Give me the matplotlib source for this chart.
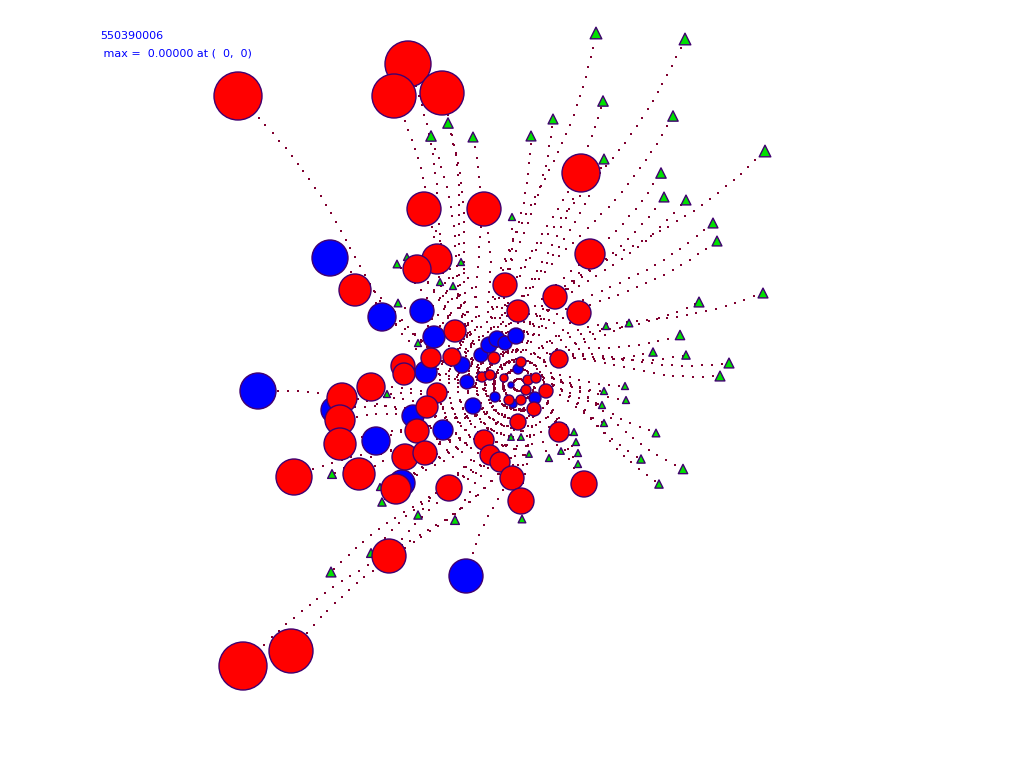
import numpy as np
import matplotlib.pyplot as plt
from matplotlib.patches import Circle

# ---- data (pixel coordinates of the network view) ----
title_id = "550390006"
max_text = " max =  0.00000 at (  0,  0)"
center = (519, 385)

red_x = [238, 408, 394, 442, 581, 424, 484, 590, 437, 417, 355, 505, 555, 518, 579,
         455, 403, 431, 452, 559, 371, 342, 340, 340, 437, 427, 417, 405, 425, 359,
         294, 396, 449, 484, 490, 500, 512, 521, 584, 559, 518, 546, 534, 389, 291,
         243, 494, 482, 490, 504, 521, 528, 536, 526, 509, 521, 404]
red_y = [96, 64, 96, 93, 173, 209, 209, 254, 259, 269, 290, 285, 297, 311, 313,
         331, 366, 358, 357, 359, 387, 398, 420, 444, 393, 407, 431, 457, 453, 474,
         477, 489, 488, 440, 455, 462, 478, 501, 484, 432, 422, 391, 409, 556, 651,
         666, 358, 377, 375, 378, 362, 380, 378, 390, 400, 400, 374]
red_r = [24, 23, 22, 22, 19, 17, 17, 15, 15, 14, 16, 12, 12, 11, 12,
         11, 12, 10, 9, 9, 14, 15, 15, 16, 10, 11, 12, 13, 12, 16,
         18, 15, 13, 10, 10, 10, 12, 13, 13, 10, 8, 7, 7, 17, 22,
         24, 6, 5, 5, 4, 5, 5, 5, 5, 5, 5, 11]

blue_x = [330, 258, 382, 422, 434, 376, 413, 443, 426, 334, 402, 466, 462, 467,
          481, 489, 497, 505, 516, 473, 495, 518, 535, 513, 511]
blue_y = [258, 391, 317, 311, 337, 441, 416, 430, 372, 410, 483, 576, 365, 382,
          355, 345, 339, 343, 336, 406, 397, 369, 398, 404, 385]
blue_r = [18, 18, 14, 12, 11, 14, 11, 10, 11, 13, 13, 17, 8, 7,
          7, 8, 8, 7, 8, 8, 5, 5, 6, 4, 3]

tri_x = [596, 685, 603, 673, 765, 553, 531, 473, 448, 431, 604, 661, 664, 686, 713,
         717, 763, 699, 680, 729, 720, 686, 653, 629, 683, 641, 656, 659, 625, 626,
         604, 602, 604, 574, 576, 578, 578, 549, 529, 561, 455, 418, 382, 331, 371,
         332, 397, 398, 418, 461, 521, 511, 380, 606, 512, 440, 453, 387, 522, 407]
tri_y = [33, 39, 101, 116, 151, 119, 136, 137, 123, 136, 159, 173, 197, 200, 223,
         241, 293, 302, 335, 363, 376, 355, 352, 323, 469, 459, 433, 484, 386, 400,
         391, 405, 423, 432, 442, 453, 464, 458, 454, 451, 520, 515, 502, 572, 553,
         474, 264, 303, 343, 262, 437, 437, 487, 326, 217, 282, 286, 394, 519, 257]
tri_s = [70, 70, 55, 55, 70, 50, 50, 50, 55, 55, 50, 55, 50, 50, 50,
         50, 50, 50, 45, 50, 50, 35, 35, 30, 45, 35, 30, 35, 25, 25,
         25, 25, 25, 25, 25, 25, 25, 25, 22, 22, 40, 35, 35, 50, 40,
         40, 30, 30, 25, 25, 22, 22, 25, 25, 25, 25, 25, 25, 30, 25]

edge = "#400070"
path_col = "#800030"

fig = plt.figure(figsize=(10.24, 7.68), dpi=100)
ax = fig.add_axes([0, 0, 1, 1])
ax.set_xlim(0, 1024)
ax.set_ylim(768, 0)
ax.axis("off")

# dotted spiral paths from the centre to each node
cx, cy = center
all_x = red_x + blue_x + tri_x
all_y = red_y + blue_y + tri_y
for x, y in zip(all_x, all_y):
    dx, dy = x - cx, y - cy
    R = np.hypot(dx, dy)
    if R < 8:
        continue
    th_end = np.arctan2(dy, dx)
    r = np.linspace(6, R, 400)
    th = th_end - 1.2 * (1 - r / R) ** 3
    px = cx + r * np.cos(th)
    py = cy + r * np.sin(th)
    seg = np.hypot(np.diff(px), np.diff(py))
    s = np.concatenate([[0], np.cumsum(seg)])
    pick = np.searchsorted(s, np.arange(0, s[-1], 10))
    ax.scatter(px[pick], py[pick], s=0.6, c=path_col, marker="s", linewidths=0, zorder=1)

for x, y, r in zip(blue_x, blue_y, blue_r):
    ax.add_patch(Circle((x, y), r, facecolor="#0000ff", edgecolor=edge, lw=1, zorder=3))
for x, y, r in zip(red_x, red_y, red_r):
    ax.add_patch(Circle((x, y), r, facecolor="#ff0000", edgecolor=edge, lw=1, zorder=3))

ax.scatter(tri_x, tri_y, s=tri_s, marker="^", c="#00e000", edgecolors=edge,
           linewidths=1, zorder=2)

fig.text(100 / 1024, 1 - 36 / 768, title_id, color="#0000ff", fontsize=8,
         va="center", ha="left")
fig.text(100 / 1024, 1 - 53 / 768, max_text, color="#0000ff", fontsize=8,
         va="center", ha="left")

fig.savefig("out.png", dpi=100)
